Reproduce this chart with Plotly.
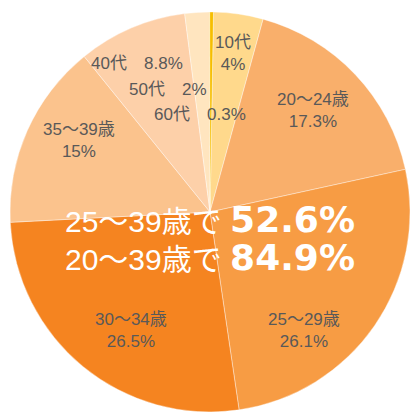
import plotly.graph_objects as go

# ---- data ----
categories = ["10代", "20〜24歳", "25〜29歳", "30〜34歳", "35〜39歳", "40代", "50代", "60代"]
values = [4, 17.3, 26.1, 26.5, 15, 8.8, 2, 0.3]
value_labels = ["4%", "17.3%", "26.1%", "26.5%", "15%", "8.8%", "2%", "0.3%"]
colors = ["#FFD98C", "#F9AF6B", "#F79C44", "#F58420", "#FBC38D", "#FDD0A9", "#FFE5BF", "#F6BE00"]
summary_prefix = ["25〜39歳で", "20〜39歳で"]
summary_values = ["52.6%", "84.9%"]

W, H = 411, 412

fig = go.Figure(go.Pie(
    labels=categories,
    values=values,
    sort=False,
    direction="clockwise",
    rotation=1,
    marker=dict(colors=colors, line=dict(color="rgba(255,255,255,0.55)", width=0.7)),
    textinfo="none",
    hoverinfo="label+percent",
    domain=dict(x=[10 / W, 410 / W], y=[0 / H, 400 / H]),
    showlegend=False,
))

TXT = "#595959"
FONT = "Liberation Sans, Arial, Noto Sans CJK JP, sans-serif"
BIGNUM = "DejaVu Sans, Verdana, sans-serif"

def px(x, y):
    return x / W, 1 - y / H

annotations = []
# two-line labels: (index, center x, center y)
two_line = [(0, 233, 54), (1, 312.5, 110), (2, 304, 330), (3, 131, 330), (4, 79, 141)]
for i, cx, cy in two_line:
    x, y = px(cx, cy)
    annotations.append(dict(x=x, y=y, xref="paper", yref="paper", showarrow=False,
                            text=f"{categories[i]}<br>{value_labels[i]}",
                            xanchor="center", yanchor="middle",
                            font=dict(size=17, color=TXT, family=FONT)))
# small slices: name right-aligned, value left-aligned
one_line = [(5, 129, 142, 64), (6, 167, 180, 89), (7, 192, 205, 114)]
for i, xr, xl, cy in one_line:
    x1, y1 = px(xr, cy)
    x2, _ = px(xl, cy)
    annotations.append(dict(x=x1, y=y1, xref="paper", yref="paper", showarrow=False,
                            text=categories[i], xanchor="right", yanchor="middle",
                            font=dict(size=17, color=TXT, family=FONT)))
    annotations.append(dict(x=x2, y=y1, xref="paper", yref="paper", showarrow=False,
                            text=value_labels[i], xanchor="left", yanchor="middle",
                            font=dict(size=17, color=TXT, family=FONT)))

# summary text
for k, cy in enumerate([219, 257]):
    x, y = px(209.5, cy)
    annotations.append(dict(x=x, y=y, xref="paper", yref="paper", showarrow=False,
                            text=(f"{summary_prefix[k]} <span style='font-size:36px;"
                                  f"font-family:{BIGNUM};font-weight:bold'>{summary_values[k]}</span>"),
                            xanchor="center", yanchor="middle",
                            font=dict(size=30, color="white", family=FONT)))

fig.update_layout(
    width=W, height=H,
    margin=dict(l=0, r=0, t=0, b=0),
    paper_bgcolor="white",
    plot_bgcolor="white",
    annotations=annotations,
)

fig.write_html("out.html", config={"displayModeBar": False})
